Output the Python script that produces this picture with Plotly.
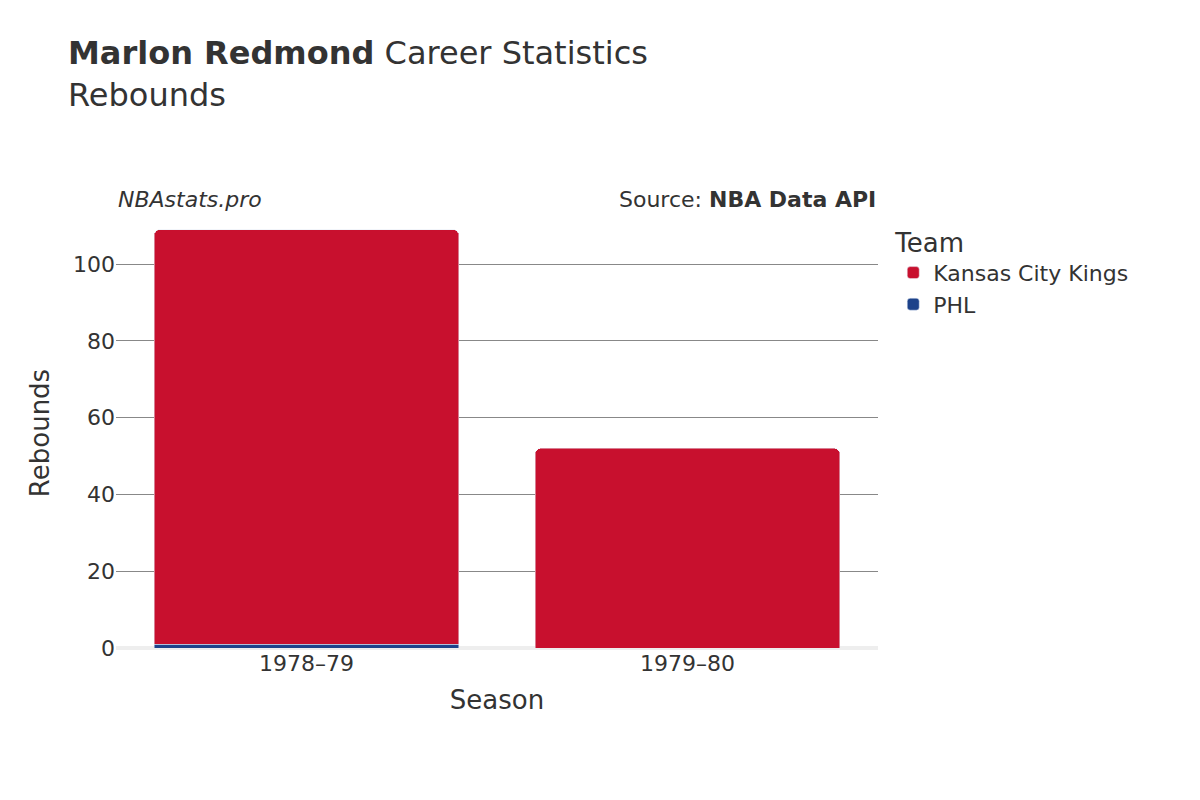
import plotly.graph_objects as go

seasons = ["1978–79", "1979–80"]
phl = [1, 0]
kck = [108, 52]

fig = go.Figure()
fig.add_bar(x=seasons, y=phl, name="PHL", marker_color="#1d428a")
fig.add_bar(x=seasons, y=kck, name="Kansas City Kings", marker_color="#c8102e")

fig.update_layout(
    barmode="stack", bargap=0.2, barcornerradius=6,
    width=1200, height=800,
    paper_bgcolor="white", plot_bgcolor="white",
    font=dict(family="DejaVu Sans", size=20, color="#333"),
    margin=dict(l=108, r=330, t=210, b=160),
    title=dict(text="<b>Marlon Redmond</b> Career Statistics<br>Rebounds",
               x=0.05, xanchor="left", y=0.93, yanchor="top",
               font=dict(size=32, color="#333")),
    legend=dict(title=dict(text="Team", font=dict(size=26)), x=1.02, y=1.0,
                yanchor="top", font=dict(size=22)),
    xaxis=dict(title=dict(text="Season", font=dict(size=26)), tickfont=dict(size=22)),
    yaxis=dict(title=dict(text="Rebounds", font=dict(size=26)), range=[0, 112],
               tickfont=dict(size=22), gridcolor="#888", zeroline=True,
               zerolinecolor="#eee", zerolinewidth=4, dtick=20),
)
fig.add_annotation(text="<i>NBAstats.pro</i>", xref="paper", yref="paper", x=0.0, y=1.01,
                   xanchor="left", yanchor="bottom", showarrow=False,
                   font=dict(size=22, color="#333"))
fig.add_annotation(text="Source: <b>NBA Data API</b>", xref="paper", yref="paper", x=1.0, y=1.01,
                   xanchor="right", yanchor="bottom", showarrow=False,
                   font=dict(size=22, color="#333"))
fig.write_html("out.html")
